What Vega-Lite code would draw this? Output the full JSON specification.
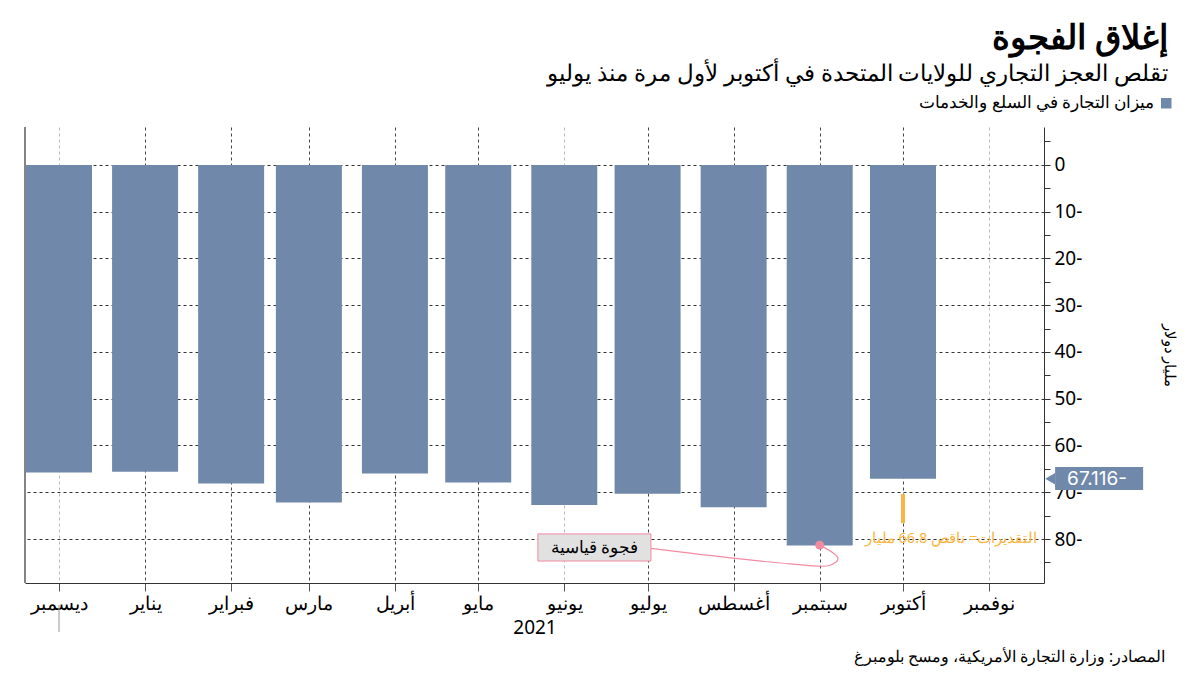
{
  "$schema": "https://vega.github.io/schema/vega-lite/v6.json",
  "width": 1019,
  "height": 456,
  "autosize": "none",
  "padding": {"left": 25, "top": 127, "right": 156, "bottom": 92},
  "background": "white",
  "config": {
    "font": "Noto Sans",
    "view": {"stroke": null}
  },
  "title": {
    "text": "إغلاق الفجوة",
    "subtitle": "تقلص العجز التجاري للولايات المتحدة في أكتوبر لأول مرة منذ يوليو",
    "anchor": "end",
    "frame": "group",
    "dx": 124,
    "offset": 10,
    "fontSize": 34,
    "fontWeight": "bold",
    "color": "#000000",
    "subtitleFontSize": 22.5,
    "subtitleColor": "#000000",
    "subtitlePadding": 7
  },
  "datasets": {
    "bars": [
      {"date": "2020-12-01", "value": -65.8},
      {"date": "2021-01-01", "value": -65.6},
      {"date": "2021-02-01", "value": -68.1},
      {"date": "2021-03-01", "value": -72.2},
      {"date": "2021-04-01", "value": -66.0},
      {"date": "2021-05-01", "value": -67.9},
      {"date": "2021-06-01", "value": -72.7},
      {"date": "2021-07-01", "value": -70.3},
      {"date": "2021-08-01", "value": -73.2},
      {"date": "2021-09-01", "value": -81.4},
      {"date": "2021-10-01", "value": -67.116}
    ]
  },
  "encoding": {
    "x": {
      "field": "date",
      "type": "temporal",
      "scale": {
        "type": "utc",
        "padding": 0,
        "nice": false,
        "domain": [
          {"year": 2020, "month": 11, "date": 18, "hours": 18, "utc": true},
          {"year": 2021, "month": 11, "date": 20, "hours": 19, "utc": true}
        ]
      },
      "axis": {
        "title": "2021",
        "titleFontSize": 19,
        "titleFontWeight": "normal",
        "titleColor": "#000000",
        "titlePadding": 6,
        "values": [
          {"year": 2020, "month": 12, "date": 1, "utc": true},
          {"year": 2021, "month": 1, "date": 1, "utc": true},
          {"year": 2021, "month": 2, "date": 1, "utc": true},
          {"year": 2021, "month": 3, "date": 1, "utc": true},
          {"year": 2021, "month": 4, "date": 1, "utc": true},
          {"year": 2021, "month": 5, "date": 1, "utc": true},
          {"year": 2021, "month": 6, "date": 1, "utc": true},
          {"year": 2021, "month": 7, "date": 1, "utc": true},
          {"year": 2021, "month": 8, "date": 1, "utc": true},
          {"year": 2021, "month": 9, "date": 1, "utc": true},
          {"year": 2021, "month": 10, "date": 1, "utc": true},
          {"year": 2021, "month": 11, "date": 1, "utc": true}
        ],
        "labelExpr": "['يناير','فبراير','مارس','أبريل','مايو','يونيو','يوليو','أغسطس','سبتمبر','أكتوبر','نوفمبر','ديسمبر'][utcmonth(datum.value)]",
        "labelFontSize": 18.5,
        "labelColor": "#000000",
        "labelPadding": 3,
        "labelOverlap": false,
        "labelFlush": false,
        "tickSize": 8,
        "tickColor": "#555555",
        "domainColor": "#333333",
        "grid": true,
        "gridDash": [3, 3],
        "gridColor": {
          "condition": {"test": "utcmonth(datum.value) == 11 || utcmonth(datum.value) == 5 || utcmonth(datum.value) == 10", "value": "#bbbbbb"},
          "value": "#444444"
        }
      }
    },
    "y": {
      "field": "value",
      "type": "quantitative",
      "scale": {"domain": [-89.4, 8.1], "nice": false, "zero": false},
      "axis": {
        "orient": "right",
        "title": "مليار دولار",
        "titleAngle": 90,
        "titleFontSize": 15,
        "titleFontWeight": "normal",
        "titleColor": "#000000",
        "titlePadding": 80,
        "values": [-85, -80, -75, -70, -65, -60, -55, -50, -45, -40, -35, -30, -25, -20, -15, -10, -5, 0, 5],
        "labelExpr": "datum.value % 10 != 0 ? '' : (datum.value == 0 ? '0' : abs(datum.value) + '-')",
        "labelFontSize": 19,
        "labelColor": "#000000",
        "labelPadding": 4,
        "tickSize": 6,
        "tickColor": "#333333",
        "domainColor": "#333333",
        "grid": true,
        "gridDash": [3, 3],
        "gridColor": "#333333",
        "gridOpacity": {"condition": {"test": "datum.value % 10 != 0 || datum.value > 0", "value": 0}, "value": 1}
      }
    }
  },
  "layer": [
    {
      "data": {"name": "bars"},
      "mark": {"type": "bar", "width": 66},
      "encoding": {
        "color": {
          "datum": "ميزان التجارة في السلع والخدمات",
          "type": "nominal",
          "scale": {"range": ["#7089ab"]},
          "legend": {
            "title": null,
            "orient": "none",
            "legendX": 1133,
            "legendY": -32,
            "symbolType": "square",
            "symbolSize": 110,
            "symbolStrokeWidth": 0,
            "labelAlign": "right",
            "labelOffset": -20,
            "labelFontSize": 16.5,
            "labelColor": "#000000",
            "labelLimit": 400
          }
        }
      }
    },
    {
      "data": {"values": [{"date": "2020-11-18T18:00:00Z", "value": 8.1, "value2": -89.4}]},
      "mark": {"type": "rule", "color": "#333333", "strokeWidth": 1.2},
      "encoding": {"y2": {"field": "value2"}}
    },
    {
      "data": {"values": [{"date": "2020-12-01", "value": -94.1, "value2": -99.9}]},
      "mark": {"type": "rule", "color": "#999999", "strokeWidth": 1},
      "encoding": {"y2": {"field": "value2"}}
    },
    {
      "data": {"values": [{"date": "2021-10-01", "value": -70.4, "value2": -76.6}]},
      "mark": {"type": "rule", "color": "#f9b642", "strokeWidth": 4},
      "encoding": {"y2": {"field": "value2"}}
    },
    {
      "data": {"values": [{"date": "2021-10-18T07:00:00Z", "value": -80.0, "label": "التقديرات= ناقص 66.8 مليار"}]},
      "mark": {"type": "text", "color": "#f9b642", "fontSize": 14.5, "align": "center", "baseline": "middle"},
      "encoding": {"text": {"field": "label"}}
    },
    {
      "data": {"values": [
        {"o": 1, "date": "2021-07-02T05:00:00Z", "value": -82.0},
        {"o": 2, "date": "2021-08-21T07:00:00Z", "value": -85.3},
        {"o": 3, "date": "2021-09-04T17:00:00Z", "value": -85.6},
        {"o": 4, "date": "2021-09-07T14:00:00Z", "value": -84.1},
        {"o": 5, "date": "2021-09-01T00:00:00Z", "value": -81.3}
      ]},
      "mark": {"type": "line", "color": "#f28ba0", "strokeWidth": 1.2, "interpolate": "catmull-rom"},
      "encoding": {"order": {"field": "o", "type": "quantitative"}}
    },
    {
      "data": {"values": [{"date": "2021-09-01T00:00:00Z", "value": -81.3}]},
      "mark": {"type": "point", "filled": true, "color": "#f28ba0", "size": 80, "opacity": 1}
    },
    {
      "data": {"values": [{"date": "2021-05-22T12:00:00Z", "date2": "2021-07-02T05:00:00Z", "value": -78.9, "value2": -84.7}]},
      "mark": {"type": "rect", "fill": "#e1e1e1", "stroke": "#f28ba0", "strokeWidth": 1},
      "encoding": {"x2": {"field": "date2"}, "y2": {"field": "value2"}}
    },
    {
      "data": {"values": [{"date": "2021-06-12T00:00:00Z", "value": -81.9, "label": "فجوة قياسية"}]},
      "mark": {"type": "text", "color": "#000000", "fontSize": 16.5, "align": "center", "baseline": "middle"},
      "encoding": {"text": {"field": "label"}}
    },
    {
      "data": {"values": [{"date": "2021-11-24T19:00:00Z", "date2": "2021-12-26T12:00:00Z", "value": -64.6, "value2": -69.5}]},
      "mark": {"type": "rect", "fill": "#7089ab"},
      "encoding": {"x2": {"field": "date2"}, "y2": {"field": "value2"}}
    },
    {
      "data": {"values": [{"date": "2021-11-23T00:00:00Z", "value": -67.116}]},
      "mark": {"type": "point", "shape": "triangle-left", "filled": true, "color": "#7089ab", "size": 130, "opacity": 1}
    },
    {
      "data": {"values": [{"date": "2021-12-09T22:00:00Z", "value": -67.116, "label": "67.116-"}]},
      "mark": {"type": "text", "color": "#ffffff", "fontSize": 19, "align": "center", "baseline": "middle", "font": "Inter"},
      "encoding": {"text": {"field": "label"}}
    },
    {
      "data": {"values": [{"date": "2022-01-03T10:00:00Z", "value": -105.2, "label": "المصادر: وزارة التجارة الأمريكية، ومسح بلومبرغ"}]},
      "mark": {"type": "text", "color": "#000000", "fontSize": 15.5, "align": "right", "baseline": "middle"},
      "encoding": {"text": {"field": "label"}}
    }
  ]
}
